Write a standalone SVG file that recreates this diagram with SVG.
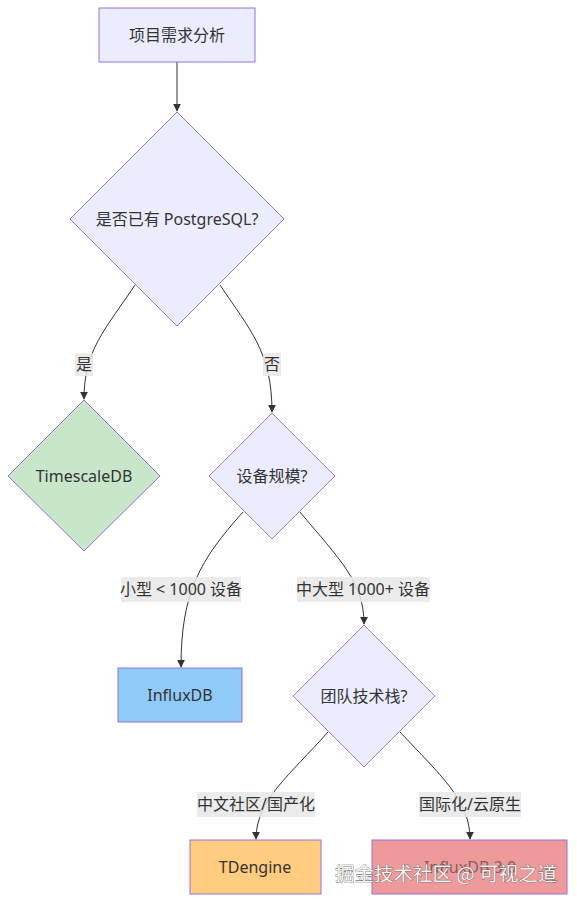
<svg xmlns="http://www.w3.org/2000/svg" width="577" height="903" viewBox="0 0 577 903">
<defs>
<style>
.node{stroke:#9370DB;stroke-width:1}
.lbl{font-family:"Noto Sans","Noto Sans CJK SC",sans-serif;font-size:16px;fill:#333;text-anchor:middle;dominant-baseline:central}
.edge{fill:none;stroke:#333;stroke-width:1}
.elbg{fill:#e8e8e8;opacity:0.85}
.wm{font-family:"Noto Sans CJK SC","Noto Sans",sans-serif;font-size:19.5px;fill:#f4f4f4;stroke:#444;stroke-width:0.6;paint-order:stroke;text-anchor:start;dominant-baseline:central}
</style>
<marker id="arr" viewBox="0 0 10 10" refX="9" refY="5" markerWidth="8" markerHeight="8" markerUnits="userSpaceOnUse" orient="auto">
<path d="M0,0 L10,5 L0,10 z" fill="#333"/>
</marker>
</defs>
<rect width="577" height="903" fill="#fff"/>
<g id="connectors">
<path class="edge" d="M177,62 L177,111" marker-end="url(#arr)"/>
<path class="edge" d="M135,285 C105,330 84,350 84,399" marker-end="url(#arr)"/>
<path class="edge" d="M220,285 C250,330 272,352 272,412" marker-end="url(#arr)"/>
<path class="edge" d="M243,512 C200,560 181,592 181,667" marker-end="url(#arr)"/>
<path class="edge" d="M300,512 C340,560 364,582 364,624" marker-end="url(#arr)"/>
<path class="edge" d="M328,732 C290,775 256,800 256,839" marker-end="url(#arr)"/>
<path class="edge" d="M400,732 C440,775 470,800 470,839" marker-end="url(#arr)"/>
<g id="edge-labels">
<rect class="elbg" x="75" y="353" width="18" height="23"/>
<text class="lbl" x="84" y="364">是</text>
<rect class="elbg" x="263" y="353" width="18" height="23"/>
<text class="lbl" x="272" y="364">否</text>
<rect class="elbg" x="121" y="577" width="120" height="25"/>
<text class="lbl" x="181" y="589">小型 &lt; 1000 设备</text>
<rect class="elbg" x="297" y="577" width="133" height="25"/>
<text class="lbl" x="363" y="589">中大型 1000+ 设备</text>
<rect class="elbg" x="197" y="792" width="118" height="25"/>
<text class="lbl" x="256" y="804">中文社区/国产化</text>
<rect class="elbg" x="419" y="792" width="102" height="25"/>
<text class="lbl" x="470" y="804">国际化/云原生</text>
</g>
</g>
<g id="n-start">
<rect class="node" x="99" y="8" width="156" height="54" fill="#ECECFF"/>
<text class="lbl" x="177" y="35">项目需求分析</text>
</g>
<g id="n-pg">
<polygon class="node" points="177,112 284,219 177,326 70,219" fill="#ECECFF"/>
<text class="lbl" x="177" y="219">是否已有 PostgreSQL?</text>
</g>
<g id="n-timescale">
<polygon class="node" points="84,400 160,476 84,551 8,476" fill="#C8E6C9"/>
<text class="lbl" x="84" y="476">TimescaleDB</text>
</g>
<g id="n-scale">
<polygon class="node" points="272,413 335,476 272,539 209,476" fill="#ECECFF"/>
<text class="lbl" x="272" y="476">设备规模?</text>
</g>
<g id="n-influx">
<rect class="node" x="118" y="668" width="124" height="54" fill="#90CAF9"/>
<text class="lbl" x="180" y="695">InfluxDB</text>
</g>
<g id="n-team">
<polygon class="node" points="364,625 435,696 364,767 293,696" fill="#ECECFF"/>
<text class="lbl" x="364" y="696">团队技术栈?</text>
</g>
<g id="n-tdengine">
<rect class="node" x="190" y="840" width="131" height="54" fill="#FFCC80"/>
<text class="lbl" x="255" y="867">TDengine</text>
</g>
<g id="n-intl">
<rect class="node" x="372" y="840" width="195" height="54" fill="#EF9A9A"/>
<text class="lbl" x="470" y="867" fill-opacity="0.6">InfluxDB 3.0</text>
</g>
<text class="wm" x="335" y="872">掘金技术社区 @ 可视之道</text>
</svg>
